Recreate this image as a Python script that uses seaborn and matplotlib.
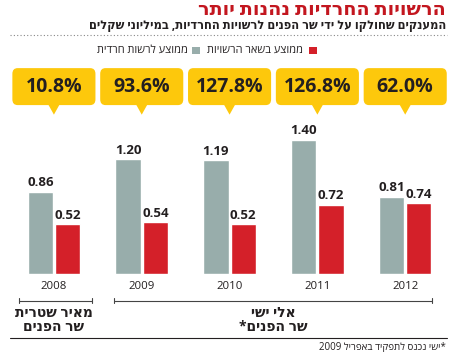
import numpy as np
import pandas as pd
import matplotlib.pyplot as plt
import seaborn as sns
from matplotlib.patches import FancyBboxPatch, Polygon
from matplotlib.lines import Line2D

# chart values
years = ['2008', '2009', '2010', '2011', '2012']
haredi_avg = [0.86, 1.20, 1.19, 1.40, 0.81]
other_avg = [0.52, 0.54, 0.52, 0.72, 0.74]
gap_labels = ['10.8%', '93.6%', '127.8%', '126.8%', '62.0%']
series_names = ['ממוצע לרשות חרדית', 'ממוצע בשאר הרשויות']

title = 'הרשויות החרדיות נהנות יותר'
subtitle = 'המענקים שחולקו על ידי שר הפנים לרשויות החרדיות, במיליוני שקלים'
minister1 = ['מאיר שטרית', 'שר הפנים']
minister2 = ['אלי ישי', 'שר הפנים*']
footnote_he = '*ישי נכנס לתפקיד באפריל'
footnote_year = '2009'

GREY = '#98adab'
RED = '#d42029'
YELLOW = '#fdc80c'
DARK = '#231f20'
TITLE_RED = '#c3161f'
FONT = ['Open Sans', 'DejaVu Sans']


def vis(s):
    # matplotlib has no bidi support, so flip Hebrew to visual order
    return s[::-1]


sns.set_theme(style='white')
plt.rcParams['font.family'] = FONT

W, H = 458, 353
fig = plt.figure(figsize=(W / 100, H / 100), dpi=100)
fig.patch.set_facecolor('white')


def fx(px):
    return px / W


def fy(py):
    return 1 - py / H


df = pd.DataFrame({
    'year': years * 2,
    'value': haredi_avg + other_avg,
    'series': [series_names[0]] * len(years) + [series_names[1]] * len(years),
})

ax = fig.add_axes([fx(10), fy(274), fx(440), 214 / H])
sns.barplot(data=df, x='year', y='value', hue='series', palette=[GREY, RED],
            width=0.62, gap=0.07, saturation=1, legend=False, ax=ax)
ax.set_xlim(-0.5, 4.51)
ax.set_ylim(0, 2.24)
ax.axis('off')

for cont in ax.containers:
    ax.bar_label(cont, fmt='%.2f', padding=2, fontsize=9.5, fontweight='bold',
                 color=DARK)

# year labels
for i, y in enumerate(years):
    ax.text(i, -0.136, y, ha='center', va='center', fontsize=8.2, color=DARK)

# yellow callouts
for i, lab in enumerate(gap_labels):
    box = FancyBboxPatch((i - 0.473, 1.768), 0.946, 0.387,
                         boxstyle='round,pad=0,rounding_size=0.06',
                         fc=YELLOW, ec='none', clip_on=False)
    ax.add_patch(box)
    tri = Polygon([(i - 0.063, 1.772), (i + 0.063, 1.772), (i, 1.668)],
                  closed=True, fc=YELLOW, ec='none', clip_on=False)
    ax.add_patch(tri)
    ax.text(i, 1.961, lab, ha='center', va='center', fontsize=14,
            fontweight='bold', color=DARK)

# minister brackets
for x0, x1 in [(-0.40, 0.433), (0.684, 4.31)]:
    ax.plot([x0, x1], [-0.279, -0.279], color='#444444', lw=0.8, clip_on=False)
    for xe in (x0, x1):
        ax.plot([xe, xe], [-0.305, -0.253], color='#444444', lw=0.8, clip_on=False)

for xc, lines in [(0.0, minister1), (2.5, minister2)]:
    ax.text(xc, -0.405, vis(lines[0]), ha='center', va='center', fontsize=10,
            fontweight='bold', color=DARK)
    ax.text(xc, -0.551, vis(lines[1]), ha='center', va='center', fontsize=10,
            fontweight='bold', color=DARK)

# header
fig.text(fx(446), fy(10), vis(title), ha='right', va='center', fontsize=13.8,
         fontweight='bold', color=TITLE_RED)
fig.text(fx(446), fy(25), vis(subtitle), ha='right', va='center', fontsize=8.3,
         fontweight='bold', color=DARK)
fig.add_artist(Line2D([fx(10), fx(447)], [fy(34.5)] * 2, color='#888888',
                      lw=0.8, linestyle=(0, (1, 2))))

# legend (RTL: square right of text)
for sq_x, txt_x, col, name in [(313, 303, RED, series_names[1]),
                               (196, 188, GREY, series_names[0])]:
    fig.add_artist(plt.Rectangle((fx(sq_x - 4), fy(54)), fx(8), 7 / H,
                                 fc=col, ec='none'))
    fig.text(fx(txt_x), fy(50.5), vis(name), ha='right', va='center',
             fontsize=7.9, color=DARK)

# footer
fig.add_artist(Line2D([fx(10), fx(447)], [fy(338.3)] * 2, color=DARK, lw=0.8))
fig.text(fx(446), fy(347), footnote_year + ' ' + vis(footnote_he), ha='right',
         va='center', fontsize=7, color=DARK)

fig.savefig('out.png', dpi=100, facecolor='white')
